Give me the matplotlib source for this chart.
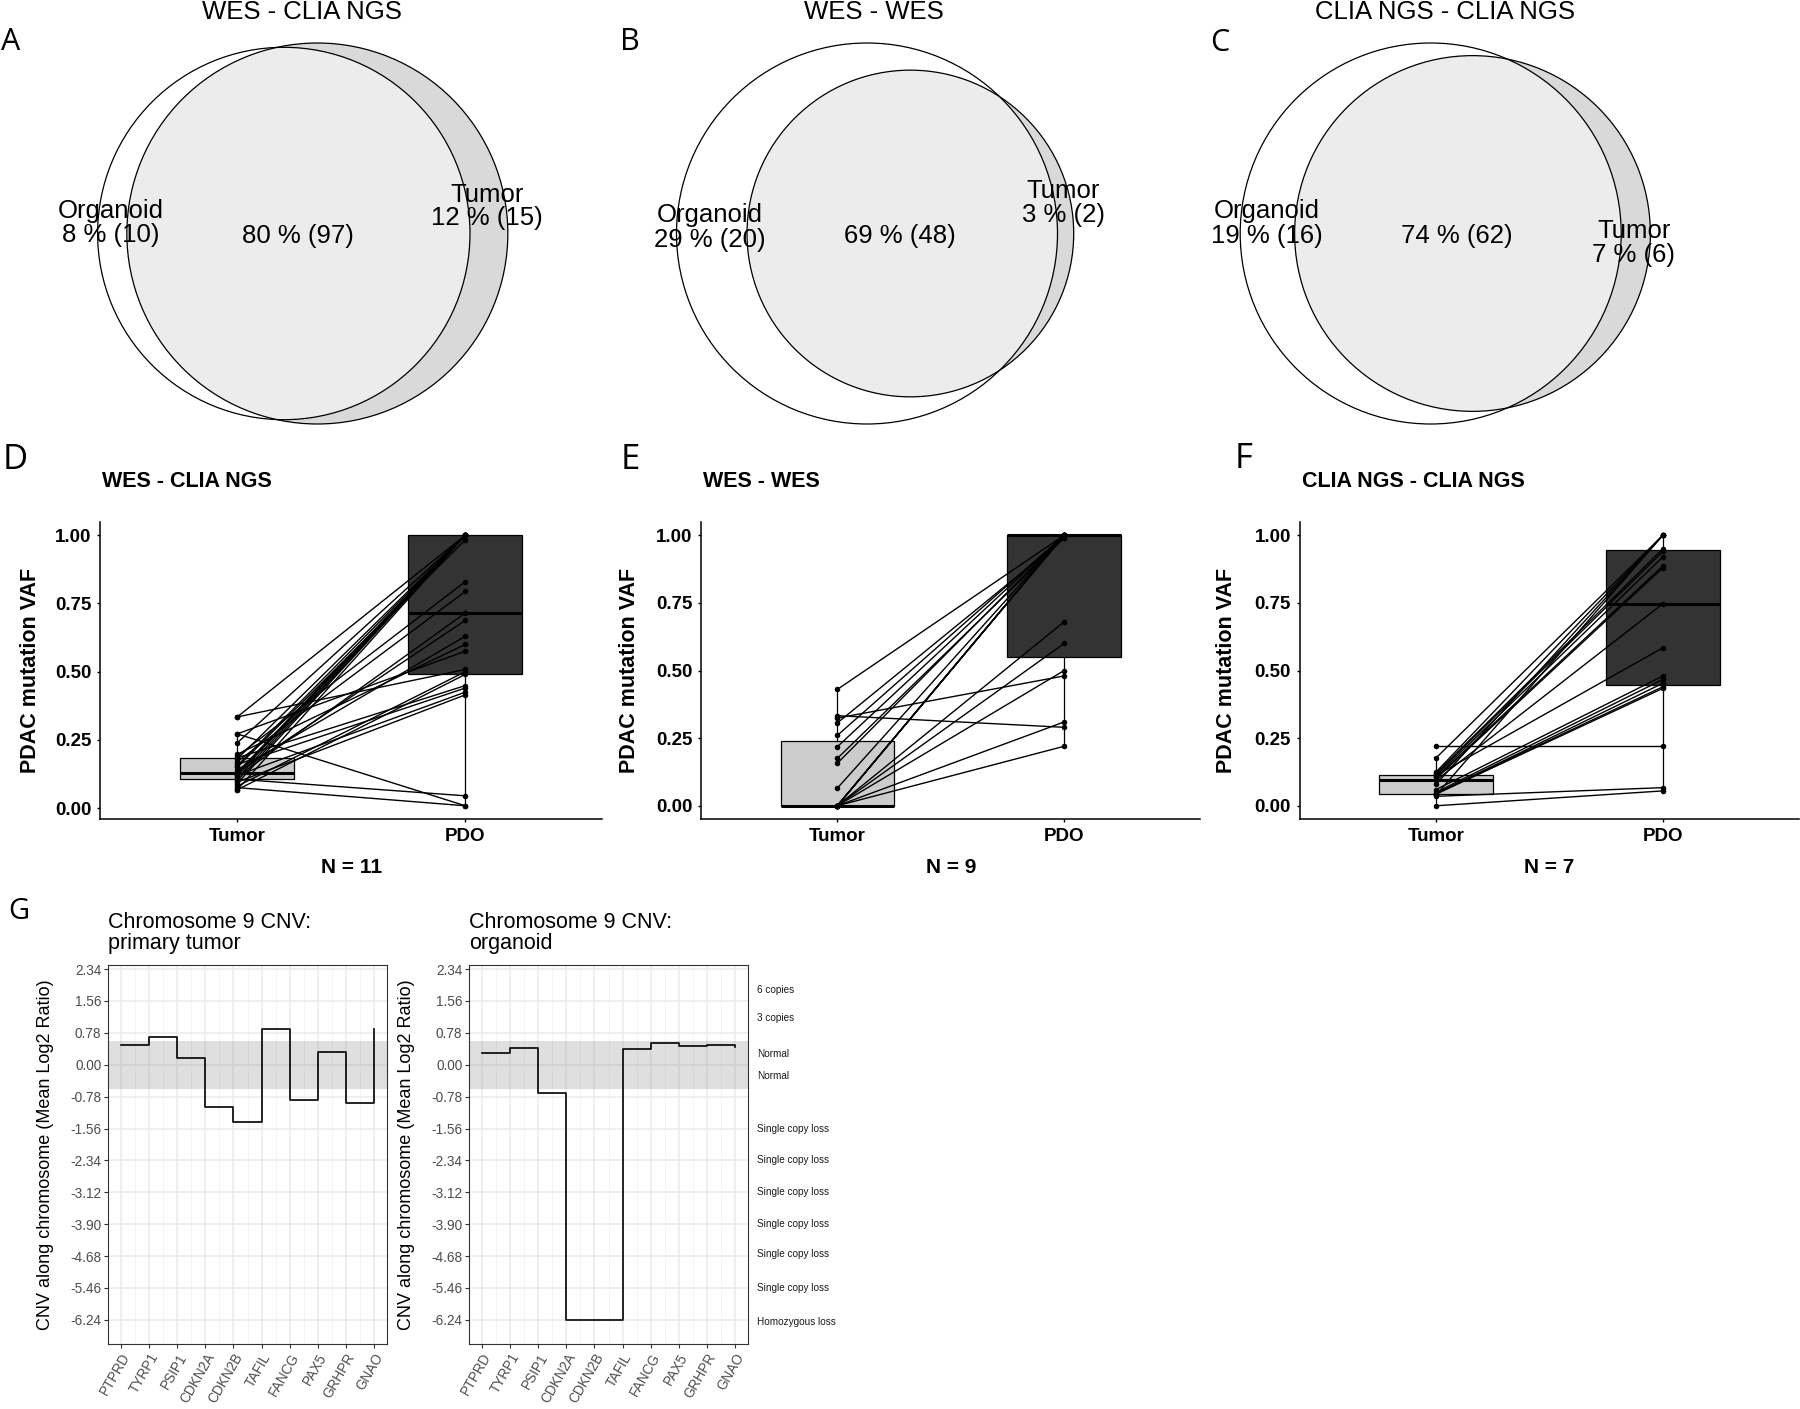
import numpy as np
import matplotlib
matplotlib.use("Agg")
import matplotlib.pyplot as plt
from matplotlib.patches import Ellipse

W, H = 1800, 1409
DPI = 100

# ---------------- data ----------------
venn_titles = ["WES - CLIA NGS", "WES - WES", "CLIA NGS - CLIA NGS"]
venn_org_only = [10, 20, 16]
venn_shared = [97, 48, 62]
venn_tumor_only = [15, 2, 6]
venn_org_pct = [8, 29, 19]
venn_shared_pct = [80, 69, 74]
venn_tumor_pct = [12, 3, 7]
venn_set_names = ["Organoid", "Tumor"]

vaf_titles = ["WES - CLIA NGS", "WES - WES", "CLIA NGS - CLIA NGS"]
vaf_n = [11, 9, 7]
vaf_categories = ["Tumor", "PDO"]

d_tumor = [0.334, 0.334, 0.272, 0.272, 0.239, 0.197, 0.19, 0.184, 0.18, 0.17,
           0.16, 0.155, 0.15, 0.14, 0.13, 0.128, 0.125, 0.12, 0.12, 0.115,
           0.11, 0.106, 0.10, 0.095, 0.09, 0.08, 0.075, 0.067, 0.067]
d_pdo = [1.0, 0.508, 0.0085, 0.575, 1.0, 0.60, 0.83, 0.449, 1.0, 0.794,
         0.44, 1.0, 0.983, 0.63, 1.0, 0.688, 1.0, 0.425, 1.0, 0.715,
         1.0, 0.045, 1.0, 0.415, 1.0, 0.50, 0.0085, 0.49, 1.0]

e_tumor = [0.43, 0.333, 0.324, 0.306, 0.26, 0.218, 0.175, 0.157, 0.065,
           0.0, 0.0, 0.0, 0.0, 0.0, 0.0, 0.0, 0.0, 0.0, 0.0]
e_pdo = [1.0, 0.29, 0.48, 0.99, 1.0, 1.0, 0.99, 1.0, 1.0,
         0.68, 0.60, 0.50, 0.31, 0.22, 1.0, 1.0, 1.0, 1.0, 1.0]

f_tumor = [0.22, 0.177, 0.125, 0.12, 0.116, 0.112, 0.11, 0.105, 0.10, 0.094,
           0.08, 0.06, 0.05, 0.045, 0.045, 0.043, 0.04, 0.035, 0.0]
f_pdo = [0.22, 1.0, 1.0, 0.95, 0.94, 0.584, 0.92, 0.887, 0.88, 0.747,
         1.0, 0.48, 0.467, 0.453, 0.44, 0.434, 1.0, 0.067, 0.055]

cnv_genes = ["PTPRD", "TYRP1", "PSIP1", "CDKN2A", "CDKN2B", "TAFIL",
             "FANCG", "PAX5", "GRHPR", "GNAO"]
cnv_primary = [0.476, 0.675, 0.159, -1.024, -1.405, 0.873, -0.865, 0.318, -0.929, 0.873]
cnv_organoid = [0.294, 0.413, -0.69, -6.25, -6.25, 0.389, 0.532, 0.468, 0.484, 0.437]
cnv_titles = ["Chromosome 9 CNV:\nprimary tumor", "Chromosome 9 CNV:\norganoid"]
cnv_ticks = [2.34, 1.56, 0.78, 0.00, -0.78, -1.56, -2.34, -3.12, -3.90, -4.68, -5.46, -6.24]
cnv_normal_band = 0.585
cnv_state_labels = ["6 copies", "3 copies", "Normal", "Normal",
                    "Single copy loss", "Single copy loss", "Single copy loss",
                    "Single copy loss", "Single copy loss", "Single copy loss",
                    "Homozygous loss"]
cnv_state_y = [1.82, 1.15, 0.26, -0.27, -1.56, -2.33, -3.11, -3.90, -4.64, -5.46, -6.29]

# ---------------- helpers ----------------
fig = plt.figure(figsize=(W / DPI, H / DPI), dpi=DPI)

def add_ax(l, t, r, b):
    ax = fig.add_axes([l / W, 1 - b / H, (r - l) / W, (b - t) / H])
    ax.set_facecolor("none")
    return ax

ARIAL = ["Liberation Sans", "DejaVu Sans"]
LETTER = ["Open Sans", "DejaVu Sans"]

# ---------------- Venn diagrams ----------------
ov = fig.add_axes([0, 0, 1, 1])
ov.set_xlim(0, W)
ov.set_ylim(H, 0)
ov.axis("off")

def lens_area(r1, r2, d):
    if d >= r1 + r2:
        return 0.0
    if d <= abs(r1 - r2):
        return np.pi * min(r1, r2) ** 2
    a1 = r1 ** 2 * np.arccos((d * d + r1 * r1 - r2 * r2) / (2 * d * r1))
    a2 = r2 ** 2 * np.arccos((d * d + r2 * r2 - r1 * r1) / (2 * d * r2))
    a3 = 0.5 * np.sqrt((-d + r1 + r2) * (d + r1 - r2) * (d - r1 + r2) * (d + r1 + r2))
    return a1 + a2 - a3

def solve_distance(r1, r2, target):
    lo, hi = abs(r1 - r2) + 1e-9, r1 + r2
    for _ in range(100):
        mid = 0.5 * (lo + hi)
        if lens_area(r1, r2, mid) > target:
            lo = mid
        else:
            hi = mid
    return 0.5 * (lo + hi)

R_MAX = 190.5
CY = 233.5
venn_left = [97.6, 676.5, 1240.2]
venn_title_x = [302, 874, 1445]
org_lab = [(111, 218, 242), (710, 222, 247), (1267, 218, 243)]
shared_lab = [(298, 243), (900, 243), (1457, 243)]
tum_lab = [(487, 202, 225), (1063, 198, 222), (1634, 238, 262)]
letters_abc = [("A", 11, 50), ("B", 630, 50), ("C", 1220, 51)]
VFS = 18.5

for i in range(3):
    so = venn_org_only[i] + venn_shared[i]
    st = venn_tumor_only[i] + venn_shared[i]
    m = max(so, st)
    ro = R_MAX * np.sqrt(so / m)
    rt = R_MAX * np.sqrt(st / m)
    target = np.pi * R_MAX ** 2 * venn_shared[i] / m
    d = solve_distance(ro, rt, target)
    ocx = venn_left[i] + ro
    tcx = ocx + d
    tum_fill = Ellipse((tcx, CY), 2 * rt, 2 * rt, facecolor="#d9d9d9", edgecolor="none", zorder=1)
    ov.add_patch(tum_fill)
    ov_fill = Ellipse((ocx, CY), 2 * ro, 2 * ro, facecolor="#ececec", edgecolor="none", zorder=2)
    ov.add_patch(ov_fill)
    ov_fill.set_clip_path(tum_fill)
    for cx, r in [(ocx, ro), (tcx, rt)]:
        ov.add_patch(Ellipse((cx, CY), 2 * r, 2 * r, fill=False, edgecolor="black", lw=0.9, zorder=3))
    ov.text(venn_title_x[i], 19, venn_titles[i], ha="center", va="baseline", fontsize=VFS, family=ARIAL)
    x, y1, y2 = org_lab[i]
    ov.text(x, y1, venn_set_names[0], ha="center", va="baseline", fontsize=VFS, family=ARIAL, zorder=5)
    ov.text(x, y2, f"{venn_org_pct[i]} % ({venn_org_only[i]})", ha="center", va="baseline",
            fontsize=VFS, family=ARIAL, zorder=5)
    x, y = shared_lab[i]
    ov.text(x, y, f"{venn_shared_pct[i]} % ({venn_shared[i]})", ha="center", va="baseline",
            fontsize=VFS, family=ARIAL, zorder=5)
    x, y1, y2 = tum_lab[i]
    ov.text(x, y1, venn_set_names[1], ha="center", va="baseline", fontsize=VFS, family=ARIAL, zorder=5)
    ov.text(x, y2, f"{venn_tumor_pct[i]} % ({venn_tumor_only[i]})", ha="center", va="baseline",
            fontsize=VFS, family=ARIAL, zorder=5)
    lt, lx, ly = letters_abc[i]
    ov.text(lx, ly, lt, ha="center", va="baseline", fontsize=22, family=LETTER)

# ---------------- VAF panels ----------------
vaf_axes_px = [(100.3, 602.2), (701.2, 1200.3), (1300.0, 1799.0)]
AX_TOP, AX_BOT = 521.7, 819.3
vaf_data = [(d_tumor, d_pdo), (e_tumor, e_pdo), (f_tumor, f_pdo)]
letters_def = [("D", 15, 469), ("E", 630, 469), ("F", 1244, 468)]
ylab_x = [-0.118, -0.123, -0.126]

for i in range(3):
    l, r = vaf_axes_px[i]
    ax = add_ax(l, AX_TOP, r, AX_BOT)
    tumor, pdo = vaf_data[i]
    bp = ax.boxplot([tumor, pdo], positions=[1, 2], widths=0.5, patch_artist=True,
                    showcaps=False, showfliers=False, whis=1.5,
                    medianprops=dict(color="black", lw=2.2),
                    boxprops=dict(edgecolor="black", lw=0.9),
                    whiskerprops=dict(color="black", lw=0.9))
    bp["boxes"][0].set_facecolor("#cccccc")
    bp["boxes"][1].set_facecolor("#333333")
    for t, p in zip(tumor, pdo):
        ax.plot([1, 2], [t, p], color="black", lw=1.0, zorder=3)
    ax.scatter(np.ones(len(tumor)), tumor, s=16, color="black", zorder=4, linewidths=0)
    ax.scatter(np.full(len(pdo), 2), pdo, s=16, color="black", zorder=4, linewidths=0)
    allv = np.array(tumor + pdo)
    rng = allv.max() - allv.min()
    ax.set_ylim(allv.min() - 0.05 * rng, allv.max() + 0.05 * rng)
    ax.set_xlim(0.4, 2.6)
    ax.set_yticks([0, 0.25, 0.5, 0.75, 1.0])
    ax.set_yticklabels(["0.00", "0.25", "0.50", "0.75", "1.00"])
    ax.set_xticks([1, 2])
    ax.set_xticklabels(vaf_categories)
    for s in ["top", "right"]:
        ax.spines[s].set_visible(False)
    for s in ["left", "bottom"]:
        ax.spines[s].set_linewidth(1.1)
    ax.tick_params(length=2.5, width=1.0, color="black", pad=4)
    for lab in ax.get_yticklabels():
        lab.set_fontfamily(ARIAL); lab.set_fontweight("bold"); lab.set_fontsize(13.5)
    for lab in ax.get_xticklabels():
        lab.set_fontfamily(ARIAL); lab.set_fontweight("bold"); lab.set_fontsize(13.5)
    ax.set_ylabel("PDAC mutation VAF", family=ARIAL, fontweight="bold", fontsize=15.5)
    ax.yaxis.set_label_coords(ylab_x[i], 0.5)
    ax.set_xlabel(f"N = {vaf_n[i]}", family=ARIAL, fontweight="bold", fontsize=15)
    ax.xaxis.set_label_coords(0.5, -0.13)
    ov.text(l + 1.5, 486.7, vaf_titles[i], ha="left", va="baseline", family=ARIAL,
            fontweight="bold", fontsize=15.5)
    lt, lx, ly = letters_def[i]
    ov.text(lx, ly, lt, ha="center", va="baseline", fontsize=25, family=LETTER)

# ---------------- CNV panels ----------------
ov.text(19, 919, "G", ha="center", va="baseline", fontsize=21, family=LETTER)
cnv_axes_px = [(108.3, 386.7), (469.3, 747.7)]
CT, CB = 965, 1344
xpos = np.arange(1, len(cnv_genes) + 1)
for i, vals in enumerate([cnv_primary, cnv_organoid]):
    l, r = cnv_axes_px[i]
    ax = add_ax(l, CT, r, CB)
    ax.set_facecolor("white")
    ax.set_xlim(0.55, 10.45)
    ax.set_ylim(-6.83, 2.44)
    ax.set_xticks(xpos)
    ax.set_xticks(xpos[:-1] + 0.5, minor=True)
    ax.set_yticks(cnv_ticks)
    ax.set_yticklabels([f"{v:.2f}" for v in cnv_ticks])
    ax.set_xticklabels(cnv_genes, rotation=60, ha="right", rotation_mode="anchor")
    ax.grid(True, which="major", color="#ebebeb", lw=1.1, zorder=0)
    ax.grid(True, which="minor", axis="x", color="#f2f2f2", lw=0.6, zorder=0)
    ax.set_axisbelow(True)
    ax.axhspan(-cnv_normal_band, cnv_normal_band, color="#808080", alpha=0.25, lw=0, zorder=1)
    ax.step(xpos, vals, where="post", color="black", lw=1.2, zorder=3)
    for s in ax.spines.values():
        s.set_color("#333333"); s.set_linewidth(0.8)
    ax.tick_params(which="major", length=3, width=0.8, color="#333333", labelcolor="#4d4d4d",
                   labelsize=9.8, pad=2)
    ax.tick_params(which="minor", length=0)
    for lab in ax.get_xticklabels() + ax.get_yticklabels():
        lab.set_fontfamily(ARIAL)
    ax.set_ylabel("CNV along chromosome (Mean Log2 Ratio)", family=ARIAL, fontsize=13)
    ax.yaxis.set_label_coords(-0.195, 0.5)
    t1, t2 = cnv_titles[i].split("\n")
    ov.text(l, 927.7, t1, ha="left", va="baseline", family=ARIAL, fontsize=15.5)
    ov.text(l, 949.5, t2, ha="left", va="baseline", family=ARIAL, fontsize=15.5)
    if i == 1:
        for lab, yv in zip(cnv_state_labels, cnv_state_y):
            ax.text(1.0 + (757 - r) / (r - l), yv, lab, transform=ax.get_yaxis_transform(),
                    ha="left", va="center", family=ARIAL, fontsize=7.2, color="#1a1a1a")

fig.savefig("out.png", dpi=DPI)
